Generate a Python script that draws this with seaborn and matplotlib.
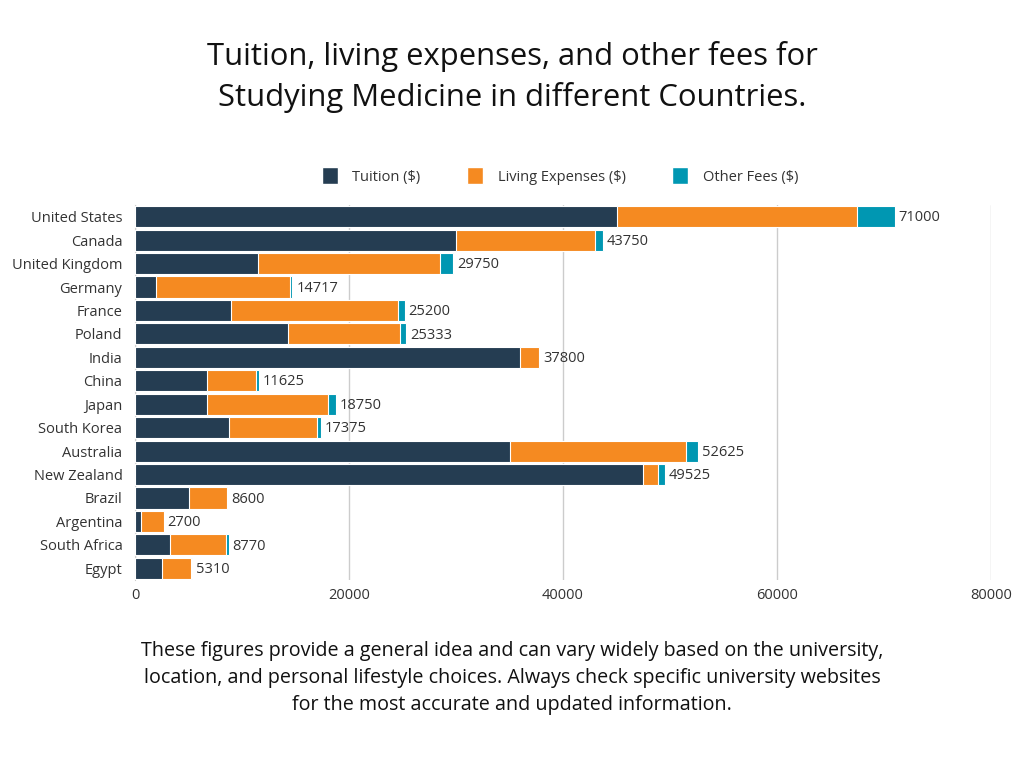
import numpy as np
import pandas as pd
import matplotlib
matplotlib.use("Agg")
import matplotlib.pyplot as plt
import seaborn as sns
from matplotlib.patches import Patch

countries = ["United States", "Canada", "United Kingdom", "Germany", "France", "Poland",
             "India", "China", "Japan", "South Korea", "Australia", "New Zealand",
             "Brazil", "Argentina", "South Africa", "Egypt"]
tuition = [45000, 30000, 11500, 2000, 9000, 14300, 36000, 6700, 6750, 8750, 35000, 47500,
           5000, 600, 3300, 2500]
living = [22500, 13000, 17000, 12500, 15600, 10500, 1800, 4600, 11250, 8250, 16500, 1400,
          3600, 2100, 5250, 2730]
other_fees = [3500, 750, 1250, 217, 600, 533, 0, 325, 750, 375, 1125, 625,
              0, 0, 220, 80]

series_names = ["Tuition ($)", "Living Expenses ($)", "Other Fees ($)"]
colors = ["#253d52", "#f58a21", "#0097b2"]

df = pd.DataFrame({
    "country": countries,
    "tuition": tuition,
    "living": living,
    "other": other_fees,
})
df["cum_living"] = df["tuition"] + df["living"]
df["total"] = df["cum_living"] + df["other"]

sns.set_style("white")
plt.rcParams["font.family"] = ["Open Sans", "DejaVu Sans"]

fig = plt.figure(figsize=(10.24, 7.68), dpi=100)
ax = fig.add_axes([135 / 1024, 1 - 580 / 768, (991 - 135) / 1024, 375 / 768])

# stacked bars: draw cumulative totals back to front
for col, c in zip(["total", "cum_living", "tuition"], colors[::-1]):
    sns.barplot(data=df, x=col, y="country", orient="h", color=c, saturation=1, width=0.9,
                edgecolor="white", linewidth=0.8, ax=ax, zorder=3)

for i, tot in enumerate(df["total"]):
    ax.text(tot + 350, i + 0.05, f"{tot}", va="center", ha="left", fontsize=10.5, color="#333333")

ax.set_xlim(0, 80000)
ax.set_ylim(15.5, -0.5)
ax.set_xticks([0, 20000, 40000, 60000, 80000])
ax.set_xlabel("")
ax.set_ylabel("")
ax.tick_params(axis="both", length=0, labelsize=10.5, colors="#333333")
ax.tick_params(axis="y", pad=9)
ax.tick_params(axis="x", pad=6)
ax.xaxis.grid(True, color="#cccccc", linewidth=1)
ax.set_axisbelow(True)
for s in ["top", "right", "bottom"]:
    ax.spines[s].set_visible(False)
ax.spines["left"].set_color("#cccccc")

handles = [Patch(facecolor=c, label=n) for c, n in zip(colors, series_names)]
fig.legend(handles=handles, loc="center", bbox_to_anchor=(560 / 1024, 1 - 176 / 768),
           ncol=3, frameon=False, fontsize=10.5, handlelength=1.1, handleheight=1.4,
           columnspacing=3.2, handletextpad=1.0, labelcolor="#333333")

fig.text(0.5, 1 - 77 / 768,
         "Tuition, living expenses, and other fees for\nStudying Medicine in different Countries.",
         ha="center", va="center", fontsize=22.3, color="#111111", linespacing=1.45)

fig.text(0.5, 1 - 678 / 768,
         "These figures provide a general idea and can vary widely based on the university,\n"
         "location, and personal lifestyle choices. Always check specific university websites\n"
         "for the most accurate and updated information.",
         ha="center", va="center", fontsize=14.2, color="#111111", linespacing=1.45)

fig.savefig("out.png", dpi=100, facecolor="white")
